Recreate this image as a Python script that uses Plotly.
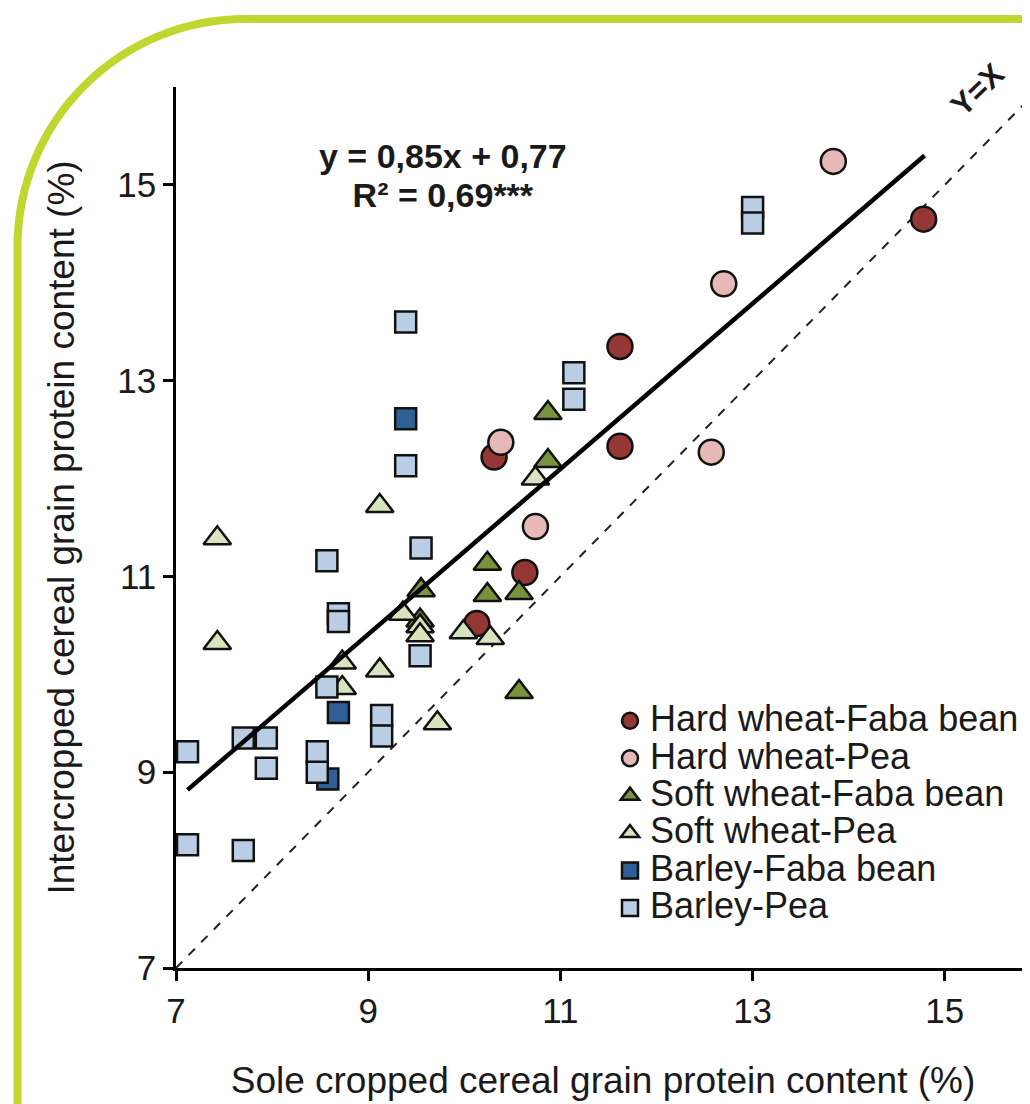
import plotly.graph_objects as go

# ---------------- data ----------------
hw_fb_x = [14.78, 11.62, 11.62, 10.31, 10.63, 10.13]
hw_fb_y = [14.65, 13.35, 12.33, 12.22, 11.04, 10.52]

hw_pea_x = [13.84, 12.70, 12.57, 10.38, 10.74]
hw_pea_y = [15.24, 13.99, 12.27, 12.37, 11.51]

sw_fb_x = [10.87, 10.87, 10.24, 10.24, 10.57, 10.57, 9.55, 9.54]
sw_fb_y = [12.67, 12.18, 11.13, 10.81, 10.83, 9.82, 10.86, 10.55]

sw_pea_x = [7.43, 7.43, 9.12, 9.36, 9.54, 9.54, 10.74, 9.99, 10.27, 9.12, 8.73, 8.73, 9.72]
sw_pea_y = [11.39, 10.32, 11.72, 10.62, 10.49, 10.40, 12.00, 10.43, 10.37, 10.04, 10.12, 9.86, 9.50]

b_fb_x = [9.39, 8.69, 8.58]
b_fb_y = [12.61, 9.61, 8.93]

b_pea_x = [9.39, 9.39, 9.55, 8.57, 8.69, 8.69, 9.54, 8.57, 7.70, 7.94, 7.94, 7.12, 7.12,
           7.70, 8.47, 8.47, 9.14, 9.14, 13.00, 13.00, 11.14, 11.14]
b_pea_y = [13.60, 12.13, 11.29, 11.16, 10.62, 10.54, 10.19, 9.87, 9.35, 9.35, 9.04, 9.21, 8.26,
           8.20, 9.21, 9.00, 9.58, 9.37, 14.77, 14.61, 13.08, 12.81]

trend_x = [7.12, 14.79]
trend_y = [8.82, 15.30]

identity_x = [7, 16]
identity_y = [7, 16]

tick_vals = [7, 9, 11, 13, 15]
tick_text = ["7", "9", "11", "13", "15"]

series_names = ["Hard wheat-Faba bean", "Hard wheat-Pea", "Soft wheat-Faba bean",
                "Soft wheat-Pea", "Barley-Faba bean", "Barley-Pea"]

equation_lines = ["y = 0,85x + 0,77", "R² = 0,69***"]

# ---------------- layout constants ----------------
OFF = 8                      # page body margin
W, H = 1022, 1096
ML, MR, MT, MB = 168, 0, 79, 136
PW = W - ML - MR
PH = H - MT - MB
X_MAX = 7 + PW / 96.1
FONT = "Liberation Sans, Arial, sans-serif"
TXT = "#1a1a1a"


def px(x):
    """page pixel x -> paper fraction"""
    return (x - OFF - ML) / PW


def py(y):
    """page pixel y -> paper fraction"""
    return (H - MB - (y - OFF)) / PH


series = [
    (hw_fb_x, hw_fb_y, "circle", "#953735", 25),
    (hw_pea_x, hw_pea_y, "circle", "#E6B9B8", 25),
    (sw_fb_x, sw_fb_y, "triangle-up", "#77933C", 24),
    (sw_pea_x, sw_pea_y, "triangle-up", "#D7E4BD", 24),
    (b_fb_x, b_fb_y, "square", "#2F5F96", 21),
    (b_pea_x, b_pea_y, "square", "#B9CDE5", 21),
]

fig = go.Figure()

fig.add_trace(go.Scatter(x=identity_x, y=identity_y, mode="lines",
                         line=dict(color="#222222", width=2, dash="dash"),
                         showlegend=False, hoverinfo="skip"))

for (xs, ys, sym, col, sz), name in zip(series, series_names):
    fig.add_trace(go.Scatter(
        x=xs, y=ys, mode="markers",
        name="<span style='font-size:36px'>" + name + "</span>",
        marker=dict(symbol=sym, color=col, size=sz,
                    line=dict(color="#111111", width=2.5)),
    ))

fig.add_trace(go.Scatter(x=trend_x, y=trend_y, mode="lines",
                         line=dict(color="#000000", width=4.5),
                         showlegend=False, hoverinfo="skip"))

# rounded green frame (top-left corner visible)
x0, y0, r = 17.5, 19.0, 228.0
k = 0.5523
path = (f"M {px(x0)},{py(H + 40)} L {px(x0)},{py(y0 + r)} "
        f"C {px(x0)},{py(y0 + r - k * r)} {px(x0 + r - k * r)},{py(y0)} {px(x0 + r)},{py(y0)} "
        f"L {px(W + 40)},{py(y0)}")
fig.add_shape(type="path", path=path, xref="paper", yref="paper",
              line=dict(color="#C0D72F", width=8), layer="below")

eq_text = "<br>".join("<b><span style='font-size:34px'>" + t + "</span></b>"
                      for t in equation_lines)
fig.add_annotation(x=px(443), y=py(175), xref="paper", yref="paper",
                   xanchor="center", yanchor="middle", align="center",
                   text=eq_text, showarrow=False,
                   font=dict(family=FONT, size=30, color=TXT))
fig.add_annotation(x=px(978), y=py(90), xref="paper", yref="paper",
                   xanchor="center", yanchor="middle",
                   text="<b>Y=X</b>", showarrow=False, textangle=-44,
                   font=dict(family=FONT, size=31, color=TXT))

axis_common = dict(
    showgrid=False, zeroline=False, showline=True, linecolor="#000000", linewidth=2.5,
    ticks="outside", ticklen=10, tickwidth=2.5, tickcolor="#000000",
    tickvals=tick_vals, ticktext=tick_text,
    tickfont=dict(family=FONT, size=35, color=TXT),
)

fig.update_layout(
    width=W, height=H,
    margin=dict(l=ML, r=MR, t=MT, b=MB, autoexpand=False),
    paper_bgcolor="white", plot_bgcolor="white",
    font=dict(family=FONT, color=TXT),
    xaxis=dict(range=[7, X_MAX], **axis_common,
               title=dict(text="Sole cropped cereal grain protein content (%)",
                          font=dict(family=FONT, size=37, color=TXT), standoff=39)),
    yaxis=dict(range=[7, 16], **axis_common,
               title=dict(text="Intercropped cereal grain protein content (%)",
                          font=dict(family=FONT, size=37, color=TXT), standoff=32)),
    legend=dict(x=px(610), y=py(697), xanchor="left", yanchor="top",
                font=dict(family=FONT, size=26.5, color=TXT),
                bgcolor="rgba(0,0,0,0)", tracegroupgap=0, itemsizing="trace"),
    showlegend=True,
)

fig.write_html("out.html")
